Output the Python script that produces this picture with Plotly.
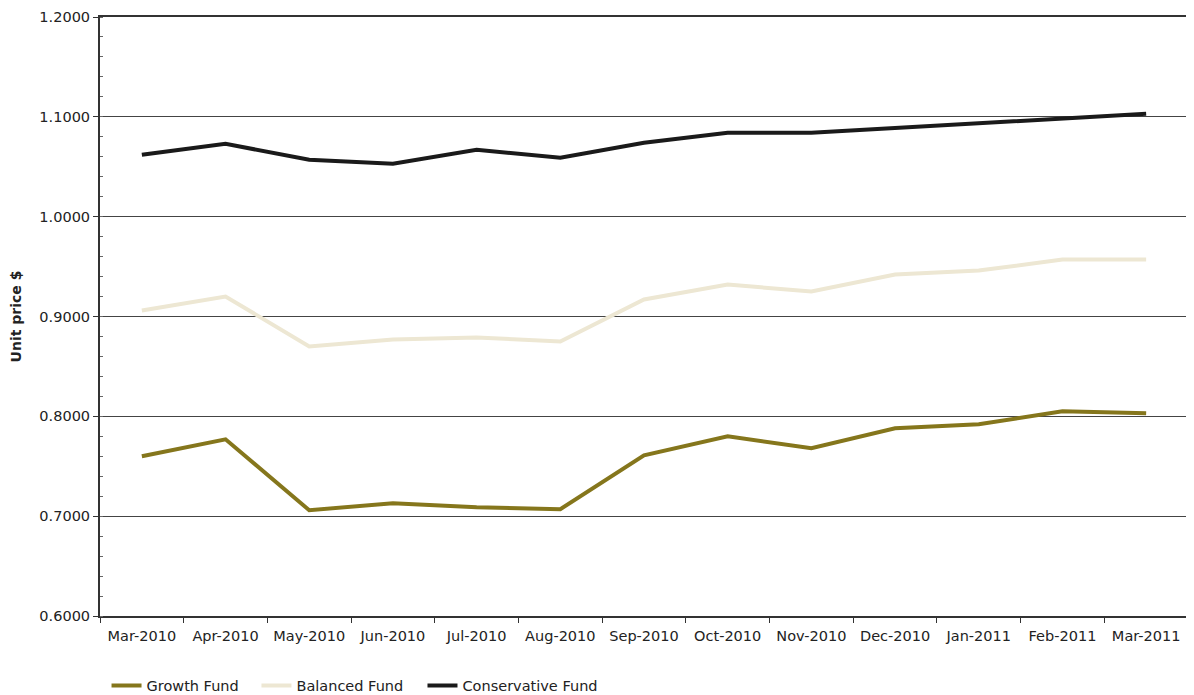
import plotly.graph_objects as go

months = ["Mar-2010", "Apr-2010", "May-2010", "Jun-2010", "Jul-2010", "Aug-2010",
          "Sep-2010", "Oct-2010", "Nov-2010", "Dec-2010", "Jan-2011", "Feb-2011", "Mar-2011"]
growth = [0.760, 0.777, 0.706, 0.713, 0.709, 0.707, 0.761, 0.780, 0.768, 0.788, 0.792, 0.805, 0.803]
balanced = [0.906, 0.920, 0.870, 0.877, 0.879, 0.875, 0.917, 0.932, 0.925, 0.942, 0.946, 0.957, 0.957]
conservative = [1.062, 1.073, 1.057, 1.053, 1.067, 1.059, 1.074, 1.084, 1.084, 1.089, 1.094, 1.099, 1.103]

series = [("Growth Fund", growth, "#85761c", "legend"),
          ("Balanced Fund", balanced, "#ede7d3", "legend2"),
          ("Conservative Fund", conservative, "#1a1a1a", "legend3")]

fig = go.Figure()
for name, vals, col, lg in series:
    fig.add_trace(go.Scatter(x=months, y=vals, mode="lines", name=name, legend=lg,
                             line=dict(color=col, width=4)))

def leg(x):
    return dict(orientation="h", x=x, xanchor="left", yref="container", y=0.037,
                yanchor="top", font=dict(size=14.5), itemwidth=30)

fig.update_layout(
    width=1186, height=687,
    margin=dict(l=92, r=6, t=9, b=79),
    plot_bgcolor="white", paper_bgcolor="white",
    font=dict(family="DejaVu Sans, sans-serif", size=14.5, color="#222"),
    showlegend=True,
    legend=leg(0.006), legend2=leg(0.1438), legend3=leg(0.2964),
    xaxis=dict(type="category", showline=True, linecolor="#333", linewidth=2,
               mirror=True, ticks="outside", ticklen=5, tickcolor="#333",
               tickson="boundaries", showgrid=False, range=[-0.5, 12.5],
               automargin=False, ticklabelstandoff=6, tickfont=dict(size=14.5)),
    yaxis=dict(range=[0.6, 1.2], dtick=0.1, tickformat=".4f", showline=True,
               linecolor="#333", linewidth=2, ticks="outside", ticklen=5,
               tickcolor="#333", showgrid=True, gridcolor="#444", gridwidth=1,
               zeroline=False, automargin=False, tickfont=dict(size=14.5),
               minor=dict(ticks="inside", dtick=0.02, ticklen=3, tickcolor="#666", showgrid=False),
               title=dict(text="<b>Unit price $</b>", font=dict(size=14), standoff=17)),
)
# right border
fig.add_shape(type="line", xref="paper", yref="paper", x0=1, x1=1, y0=0, y1=1,
              line=dict(color="#888", width=1.5))

fig.write_html("out.html")
